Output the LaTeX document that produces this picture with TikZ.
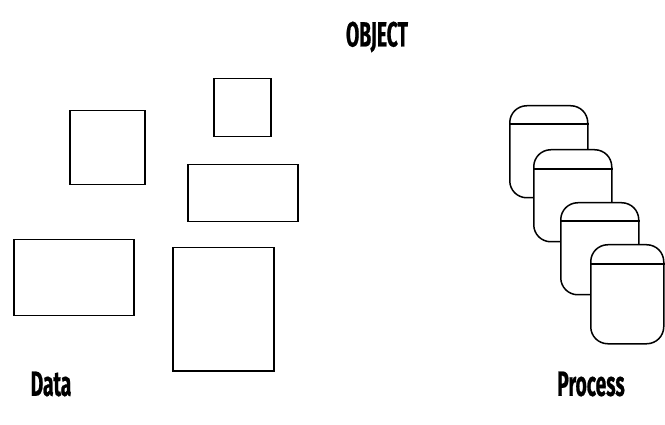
\documentclass[tikz,border=0pt]{standalone}
\usepackage{fontspec}
\newfontfamily\lblfont[FakeStretch=0.55, FakeBold=0.6]{Fira Sans}
\tikzset{
  outline/.style={draw=black, line width=1.5pt},
  databox/.style={outline, rectangle, fill=white, inner sep=0pt, anchor=north west},
  procbox/.style={outline, rectangle, rounded corners=17pt, fill=white, inner sep=0pt,
    anchor=north west, minimum width=78pt, minimum height=92pt},
  caption/.style={font=\lblfont\bfseries\fontsize{35}{38}\selectfont, inner sep=0pt}
}
\begin{document}
\begin{tikzpicture}[x=1pt, y=-1pt]
  \useasboundingbox (0,0) rectangle (665,425);

  % heading
  \node[caption] (title) at (377,37) {OBJECT};

  % data items: plain rectangles of various sizes
  \node[databox, minimum width=75pt,  minimum height=74pt]  (d1) at (69,110)  {};
  \node[databox, minimum width=57pt,  minimum height=58pt]  (d2) at (213,78)  {};
  \node[databox, minimum width=110pt, minimum height=57pt]  (d3) at (187,164) {};
  \node[databox, minimum width=120pt, minimum height=76pt]  (d4) at (13,239)  {};
  \node[databox, minimum width=101pt, minimum height=123pt] (d5) at (172,247) {};

  % process items: stacked rounded boxes with a header line
  \node[procbox] (p1) at (509,105) {};
  \draw[outline] ([yshift=-19pt]p1.north west) -- ([yshift=-19pt]p1.north east);
  \node[procbox] (p2) at (533,149) {};
  \draw[outline] ([yshift=-20pt]p2.north west) -- ([yshift=-20pt]p2.north east);
  \node[procbox] (p3) at (560,202) {};
  \draw[outline] ([yshift=-19pt]p3.north west) -- ([yshift=-19pt]p3.north east);
  \node[procbox, minimum width=73pt, minimum height=99pt] (p4) at (590,244) {};
  \draw[outline] ([yshift=-20pt]p4.north west) -- ([yshift=-20pt]p4.north east);

  % captions
  \node[caption] (data) at (51,384) {Data};
  \node[caption] (proc) at (591,384) {Process};
\end{tikzpicture}
\end{document}
